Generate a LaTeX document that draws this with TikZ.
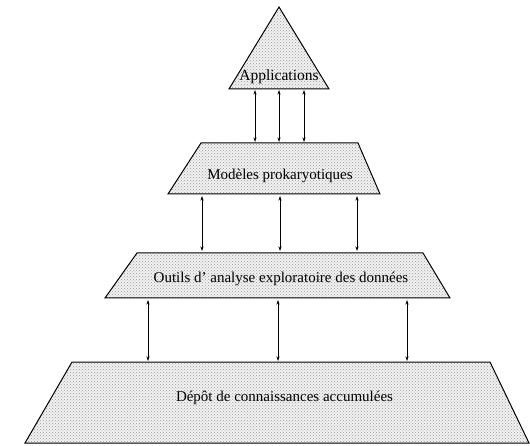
\documentclass[tikz,border=0pt]{standalone}
\usepackage{fontspec}
\setmainfont{Liberation Serif}
\usetikzlibrary{arrows.meta,patterns}
\begin{document}
\begin{tikzpicture}[x=1pt,y=-1pt,
  level/.style={draw=black,line width=1pt,line join=miter,
    preaction={fill=gray!10},pattern=crosshatch dots,pattern color=gray!80},
  link/.style={line width=0.6pt,{Stealth[length=4.5pt,width=3pt]}-{Stealth[length=4.5pt,width=3pt]}},
  lbl/.style={inner sep=0pt,text=black,font=\fontsize{15}{17}\selectfont}]
\useasboundingbox (0,0) rectangle (530,446);
% shapes
\path[level] (279,7) -- (329,89) -- (229,89) -- cycle;
\path[level] (201,143) -- (358,143) -- (380,194) -- (168,194) -- cycle;
\path[level] (137,253) -- (423,253) -- (450,298) -- (105,298) -- cycle;
\path[level] (72,362) -- (490,362) -- (529,443) -- (25,443) -- cycle;
% labels
\node[lbl,font=\fontsize{15.5}{17}\selectfont] (app) at (279,77) {Applications};
\node[lbl] (mod) at (280,176) {Modèles prokaryotiques};
\node[lbl] (out) at (281,279) {Outils d’ analyse exploratoire des données};
\node[lbl] (dep) at (284.5,398) {Dépôt de connaissances accumulées};
% arrow end points
\coordinate (a1t) at (255,90);  \coordinate (a1b) at (255,142);
\coordinate (a2t) at (279,90);  \coordinate (a2b) at (279,142);
\coordinate (a3t) at (304,90);  \coordinate (a3b) at (304,142);
\coordinate (b1t) at (202,196); \coordinate (b1b) at (202,251);
\coordinate (b2t) at (280,196); \coordinate (b2b) at (280,251);
\coordinate (b3t) at (357,196); \coordinate (b3b) at (357,251);
\coordinate (c1t) at (148,300); \coordinate (c1b) at (148,361);
\coordinate (c2t) at (278,300); \coordinate (c2b) at (278,361);
\coordinate (c3t) at (407,300); \coordinate (c3b) at (407,361);
\draw[link] (a1t) -- (a1b);
\draw[link] (a2t) -- (a2b);
\draw[link] (a3t) -- (a3b);
\draw[link] (b1t) -- (b1b);
\draw[link] (b2t) -- (b2b);
\draw[link] (b3t) -- (b3b);
\draw[link] (c1t) -- (c1b);
\draw[link] (c2t) -- (c2b);
\draw[link] (c3t) -- (c3b);
\end{tikzpicture}
\end{document}
